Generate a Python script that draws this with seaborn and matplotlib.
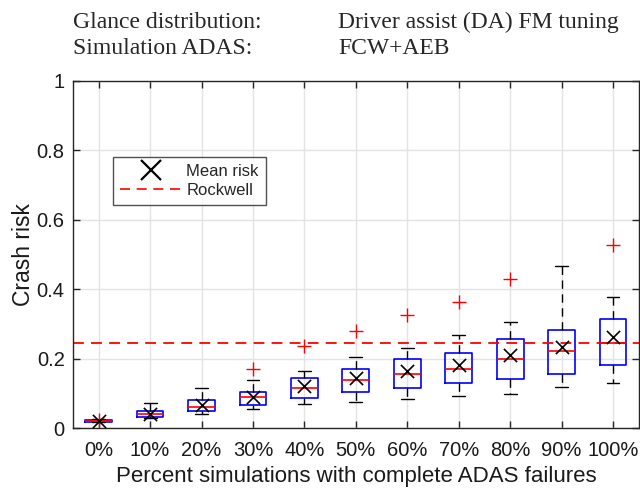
import numpy as np
import pandas as pd
import seaborn as sns
import matplotlib
matplotlib.use("Agg")
import matplotlib.pyplot as plt
from matplotlib.lines import Line2D

sns.set_theme(style="whitegrid")
plt.rcParams['font.family'] = ['Liberation Sans', 'DejaVu Sans']

# summary stats
categories = ['0%', '10%', '20%', '30%', '40%', '50%', '60%', '70%', '80%', '90%', '100%']
q1 = [0.018, 0.033, 0.048, 0.066, 0.086, 0.104, 0.116, 0.129, 0.142, 0.157, 0.181]
medians = [0.020, 0.040, 0.061, 0.089, 0.116, 0.137, 0.155, 0.170, 0.198, 0.221, 0.245]
q3 = [0.023, 0.049, 0.081, 0.105, 0.143, 0.169, 0.199, 0.217, 0.255, 0.281, 0.315]
whisk_lo = [0.016, 0.028, 0.040, 0.054, 0.068, 0.076, 0.084, 0.092, 0.098, 0.118, 0.129]
whisk_hi = [0.025, 0.073, 0.114, 0.138, 0.163, 0.205, 0.231, 0.267, 0.306, 0.466, 0.377]
mean_risk = [0.021, 0.040, 0.066, 0.090, 0.122, 0.145, 0.163, 0.181, 0.209, 0.234, 0.261]
outliers = [[0.024], [], [], [0.169], [0.236], [0.279], [0.324], [0.364], [0.428], [], [0.527]]
rockwell = 0.245

stats = []
for i in range(len(categories)):
    stats.append(dict(label=categories[i], q1=q1[i], med=medians[i], q3=q3[i],
                      whislo=whisk_lo[i], whishi=whisk_hi[i], fliers=outliers[i]))

fig = plt.figure(figsize=(6.4, 4.92), dpi=100)
ax = fig.add_axes([0.114, 0.130, 0.884, 0.706])

pos = np.arange(len(categories))
ax.bxp(stats, positions=pos, widths=0.52, capwidths=0.25, showfliers=True,
       boxprops=dict(color='#0000ff', linewidth=1.2),
       medianprops=dict(color='#ff0000', linewidth=1.2),
       whiskerprops=dict(color='black', linewidth=1.0, linestyle=(0, (6, 4))),
       capprops=dict(color='black', linewidth=1.0),
       flierprops=dict(marker='+', markeredgecolor='#ff0000', markersize=10, markeredgewidth=1.0))

df = pd.DataFrame({'pos': pos, 'mean': mean_risk})
sns.scatterplot(data=df, x='pos', y='mean', marker='x', color='black', s=90,
                linewidth=1.2, ax=ax, zorder=5)

ax.axhline(rockwell, color='#ff0000', linestyle=(0, (6, 4)), linewidth=1.3)

ax.set_xlim(-0.5, len(categories) - 0.5)
ax.set_ylim(0, 1)
ax.set_xticks(pos)
ax.set_xticklabels(categories)
ax.set_yticks([0, 0.2, 0.4, 0.6, 0.8, 1])
ax.set_yticklabels(['0', '0.2', '0.4', '0.6', '0.8', '1'])
ax.tick_params(axis='both', which='both', direction='in', length=5, width=1,
               color='#262626', labelsize=14.5, labelcolor='#1a1a1a',
               top=True, right=True, bottom=True, left=True)
ax.tick_params(axis='x', pad=9)
ax.tick_params(axis='y', pad=6)
ax.grid(True, color='#e3e3e3', linewidth=1.0)
for s in ax.spines.values():
    s.set_visible(True)
    s.set_color('#262626')
    s.set_linewidth(1.0)
ax.set_facecolor('white')

ax.set_xlabel('Percent simulations with complete ADAS failures', fontsize=16, color='#1a1a1a', labelpad=5)
ax.set_ylabel('Crash risk', fontsize=16.5, color='#1a1a1a', labelpad=1)

handles = [Line2D([], [], marker='x', color='black', linestyle='none', markersize=14, markeredgewidth=1.6),
           Line2D([], [], color='#ff0000', linestyle=(0, (6, 4)), linewidth=1.2)]
leg = ax.legend(handles, ['Mean risk', 'Rockwell'], loc='upper left', bbox_to_anchor=(0.071, 0.78),
                borderaxespad=0, fontsize=12, frameon=True, fancybox=False, handlelength=3.7,
                borderpad=0.4, labelspacing=0.25, handletextpad=0.3)
leg.get_frame().set_edgecolor('#262626')
leg.get_frame().set_linewidth(1.0)

serif = ['Liberation Serif', 'DejaVu Serif']
fig.text(0.114, 1 - 22 / 492, 'Glance distribution:', fontsize=17, family=serif, va='center')
fig.text(0.528, 1 - 22 / 492, 'Driver assist (DA) FM tuning', fontsize=17, family=serif, va='center')
fig.text(0.114, 1 - 48 / 492, 'Simulation ADAS:', fontsize=17, family=serif, va='center')
fig.text(0.528, 1 - 48 / 492, 'FCW+AEB', fontsize=17, family=serif, va='center')

fig.savefig('out.png', dpi=100, facecolor='white')
